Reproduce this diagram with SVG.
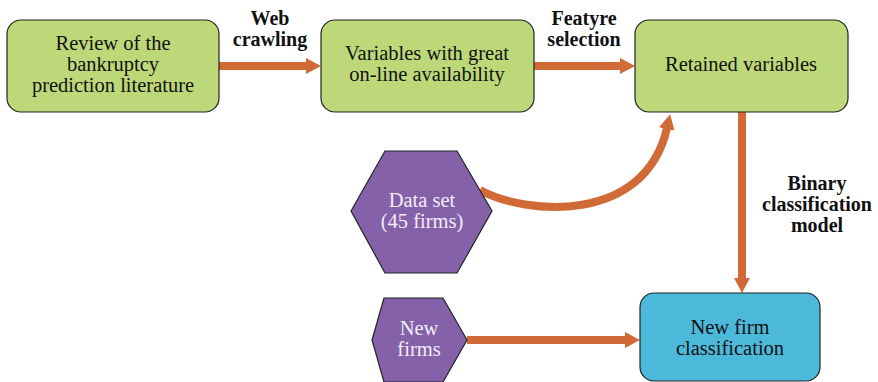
<svg xmlns="http://www.w3.org/2000/svg" width="878" height="382" viewBox="0 0 878 382">
<defs>
<style>
.box{fill:#bdd879;stroke:#222;stroke-width:1.2}
.blue{fill:#4cb9db;stroke:#222;stroke-width:1.2}
.hex{fill:#8461a9;stroke:#222;stroke-width:1.2}
.c{fill:none;stroke:#d06a37;stroke-width:8}
</style>
<marker id="ah" markerUnits="userSpaceOnUse" markerWidth="16" markerHeight="16" viewBox="0 0 16 16" refX="1" refY="8" orient="auto">
<path d="M0,0 L15,8 L0,16 Z" fill="#d06a37"/>
</marker>
</defs>
<g id="connectors">
<path class="c" d="M219,66 H307" marker-end="url(#ah)"/>
<path class="c" d="M534,66 H621" marker-end="url(#ah)"/>
<path class="c" d="M742,112 V279" marker-end="url(#ah)"/>
<path class="c" d="M467,340 H626" marker-end="url(#ah)"/>
<path class="c" d="M480,190 C525,215 645,225 667,128" marker-end="url(#ah)"/>
</g>
<g id="n1"><rect class="box" x="7" y="20" width="212" height="92" rx="14"/>
<text font-family="Liberation Serif" font-size="20.5" fill="#111" text-anchor="middle" x="113" y="50">Review of the</text>
<text font-family="Liberation Serif" font-size="20.5" fill="#111" text-anchor="middle" x="113" y="71">bankruptcy</text>
<text font-family="Liberation Serif" font-size="20.5" fill="#111" text-anchor="middle" x="113" y="92">prediction literature</text></g>
<g id="n2"><rect class="box" x="321" y="20" width="213" height="92" rx="14"/>
<text font-family="Liberation Serif" font-size="20.5" fill="#111" text-anchor="middle" x="427" y="60">Variables with great</text>
<text font-family="Liberation Serif" font-size="20.5" fill="#111" text-anchor="middle" x="427" y="81">on-line availability</text></g>
<g id="n3"><rect class="box" x="635" y="20" width="213" height="92" rx="14"/>
<text font-family="Liberation Serif" font-size="20.5" fill="#111" text-anchor="middle" x="741" y="71">Retained variables</text></g>
<g id="n4"><rect class="blue" x="640" y="293" width="180" height="88" rx="14"/>
<text font-family="Liberation Serif" font-size="20.5" fill="#111" text-anchor="middle" x="730" y="334">New firm</text>
<text font-family="Liberation Serif" font-size="20.5" fill="#111" text-anchor="middle" x="730" y="355">classification</text></g>
<g id="n5"><polygon class="hex" points="351,211 385,151 457,151 492,211 457,273 385,273"/>
<text font-family="Liberation Serif" font-size="20.5" fill="#f3eef8" text-anchor="middle" x="422" y="207">Data set</text>
<text font-family="Liberation Serif" font-size="20.5" fill="#f3eef8" text-anchor="middle" x="422" y="228">(45 firms)</text></g>
<g id="n6"><polygon class="hex" points="372,340 384,298 443,298 467,340 443,382 384,382"/>
<text font-family="Liberation Serif" font-size="20.5" fill="#f3eef8" text-anchor="middle" x="419" y="335">New</text>
<text font-family="Liberation Serif" font-size="20.5" fill="#f3eef8" text-anchor="middle" x="419" y="356">firms</text></g>
<g id="labels">
<text font-family="Liberation Serif" font-size="20" font-weight="bold" fill="#111" text-anchor="middle" x="270" y="25">Web</text>
<text font-family="Liberation Serif" font-size="20" font-weight="bold" fill="#111" text-anchor="middle" x="270" y="46">crawling</text>
<text font-family="Liberation Serif" font-size="20" font-weight="bold" fill="#111" text-anchor="middle" x="584" y="25">Featyre</text>
<text font-family="Liberation Serif" font-size="20" font-weight="bold" fill="#111" text-anchor="middle" x="584" y="46">selection</text>
<text font-family="Liberation Serif" font-size="20" font-weight="bold" fill="#111" text-anchor="middle" x="817" y="190">Binary</text>
<text font-family="Liberation Serif" font-size="20" font-weight="bold" fill="#111" text-anchor="middle" x="817" y="211">classification</text>
<text font-family="Liberation Serif" font-size="20" font-weight="bold" fill="#111" text-anchor="middle" x="817" y="232">model</text>
</g>
</svg>
